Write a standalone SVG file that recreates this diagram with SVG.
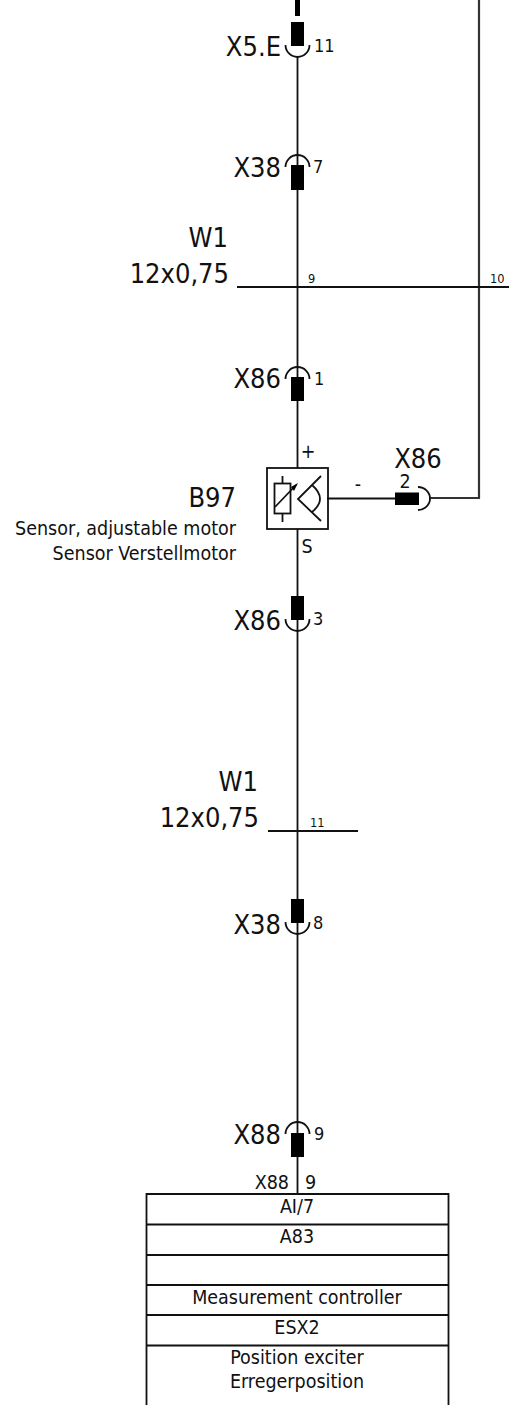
<svg xmlns="http://www.w3.org/2000/svg" width="509" height="1405" viewBox="0 0 509 1405">
<style>
text{font-family:"DejaVu Sans Condensed","DejaVu Sans",sans-serif;fill:#111}
.w{stroke:#111;stroke-width:1.8;fill:none}
.g{stroke:#333;stroke-width:2.2;fill:none}
.a{stroke:#111;stroke-width:1.8;fill:none}
.p{fill:#000}
.big{font-size:27px}
.pin{font-size:18px}
.pb{font-size:19.500px}
.sm{font-size:12.700px}
.l{font-size:19.500px}
.m{text-anchor:middle}
.e{text-anchor:end}
</style>
<g id="connectors">
<path d="M297.500 0V16" style="stroke-width:5;stroke:#000;fill:none"/>
<path class="w" d="M297.500 56V1194"/>
<path class="g" d="M479 0V498H429"/>
<path class="w" d="M237 287H509"/>
<path class="w" d="M268 831H358"/>
</g>
<g id="X5E"><rect class="p" x="291" y="22" width="13" height="24"/><path class="a" d="M285.500 45a12 12 0 0 0 24 0"/><text class="big e" x="281" y="56">X5.E</text><text class="pin" x="314" y="52">11</text></g>
<g id="X38-7"><rect class="p" x="291" y="165" width="13" height="25"/><path class="a" d="M285.500 167a12 12 0 0 1 24 0"/><text class="big e" x="281" y="177">X38</text><text class="pin" x="313" y="173">7</text></g>
<g id="W1-top"><text class="big e" x="228" y="247">W1</text><text class="big e" x="229" y="283">12x0,75</text><text class="sm" x="308" y="283">9</text><text class="sm" x="490" y="283">10</text></g>
<g id="X86-1"><rect class="p" x="291" y="377" width="13" height="24"/><path class="a" d="M285.500 379a12 12 0 0 1 24 0"/><text class="big e" x="281" y="388">X86</text><text class="pin" x="314" y="385">1</text></g>
<g id="B97">
<rect x="267" y="468" width="61" height="61" fill="#fff" stroke="#111" stroke-width="1.800"/>
<rect x="274.500" y="483.500" width="16" height="30" fill="none" stroke="#111" stroke-width="1.800"/>
<path class="a" d="M282.500 476V483M282.500 514V522M275 507L296 485M321 476L298 499L321 521M312 485Q328 499 312 512"/>
<path class="p" d="M298 483L291 487L294 491Z"/>
<text class="pb m" x="308" y="458">+</text><text class="pb m" x="358" y="491">-</text><text class="pb m" x="307" y="553">S</text>
<text class="big e" x="236" y="507">B97</text>
<text class="l e" x="236" y="535">Sensor, adjustable motor</text><text class="l e" x="236" y="560">Sensor Verstellmotor</text>
</g>
<g id="X86-2"><path class="w" d="M327 498.500H395"/><rect class="p" x="395" y="492.500" width="24" height="12.500"/><path class="a" d="M418 487a12 11.500 0 0 1 0 23"/><text class="big m" x="418" y="468">X86</text><text class="pb m" x="405" y="488">2</text></g>
<g id="X86-3"><rect class="p" x="291" y="596" width="13" height="24"/><path class="a" d="M285.500 619a12 12 0 0 0 24 0"/><text class="big e" x="281" y="630">X86</text><text class="pin" x="313" y="625">3</text></g>
<g id="W1-bot"><text class="big e" x="258" y="791">W1</text><text class="big e" x="259" y="827">12x0,75</text><text class="sm" x="310" y="827">11</text></g>
<g id="X38-8"><rect class="p" x="291" y="899" width="13" height="24"/><path class="a" d="M285.500 922a12 12 0 0 0 24 0"/><text class="big e" x="281" y="934">X38</text><text class="pin" x="313" y="929">8</text></g>
<g id="X88-9"><rect class="p" x="291" y="1133" width="13" height="24"/><path class="a" d="M285.500 1134a12 12 0 0 1 24 0"/><text class="big e" x="281" y="1144">X88</text><text class="pin" x="314" y="1140">9</text><text class="pb e" x="289" y="1189">X88</text><text class="pb" x="305" y="1189">9</text></g>
<g id="A83">
<path class="a" d="M146.500 1405V1194H448.500V1405M146 1224.500H449M146 1255H449M146 1285H449M146 1315H449M146 1345.500H449"/>
<text class="l m" x="297" y="1213">AI/7</text><text class="l m" x="297" y="1243">A83</text><text class="l m" x="297" y="1304">Measurement controller</text><text class="l m" x="297" y="1334">ESX2</text><text class="l m" x="297" y="1364">Position exciter</text><text class="l m" x="297" y="1388">Erregerposition</text>
</g>
</svg>
